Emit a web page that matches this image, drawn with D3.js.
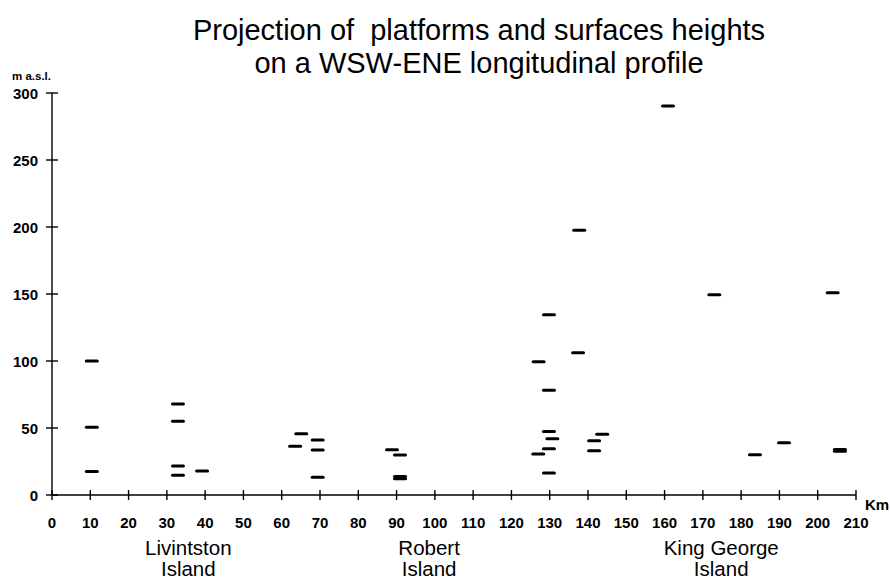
<!DOCTYPE html>
<html><head><meta charset="utf-8">
<script src="https://cdn.jsdelivr.net/npm/d3@7"></script>
<style>body{margin:0;background:#fff}svg{display:block}text{font-family:"Liberation Sans",Arial,sans-serif;fill:#000}</style>
</head><body><svg id="c" width="890" height="580"></svg>
<script>
// Data: distance along profile (km) and height (m a.s.l.)
const km = [10.4,10.4,10.4, 32.9,32.9,32.9,32.9, 39.2,
  65.1,63.5,69.4,69.4,69.4, 88.8,90.9,90.9,90.9,
  129.8,137.4,127.1,129.8,129.8,130.7,129.8,127.0,129.8,143.7,141.6,141.6,
  160.9,137.7,173.0,203.9,191.2,183.6,205.8,205.8];
const height = [100,50.5,17.5, 68,55,21.6,14.8, 17.9,
  45.7,36.3,41,33.6,13.2, 33.8,29.9,12.2,13.8,
  134.6,106.2,99.5,78.1,47.3,42,34.6,30.6,16.4,45.3,40.5,33.1,
  290.3,197.5,149.5,151,39,30.1,32.6,34];
const xTicks = d3.range(0,211,10);
const yTicks = [0,50,100,150,200,250,300];
const islands = [{name:["Livintston","Island"],at:35.6},{name:["Robert","Island"],at:98.5},{name:["King George","Island"],at:174.8}];
const titleLines = ["Projection of  platforms and surfaces heights","on a WSW-ENE longitudinal profile"];

const svg = d3.select("#c");
const x = d3.scaleLinear().domain([0,210]).range([52,856]);
const y = d3.scaleLinear().domain([0,300]).range([495,93]);

// title
svg.selectAll("text.title").data(titleLines).join("text").attr("class","title")
  .attr("x",479).attr("y",(d,i)=>40+i*33).attr("text-anchor","middle")
  .style("font-size","29px").style("white-space","pre").text(d=>d);

svg.append("text").attr("x",12).attr("y",80).style("font-size","11.5px").style("font-weight","bold").text("m a.s.l.");

// x axis
const gx = svg.append("g");
gx.append("line").attr("x1",x(0)).attr("x2",x(210)).attr("y1",y(0)).attr("y2",y(0)).attr("stroke","#000").attr("stroke-width",1.4);
gx.selectAll("line.t").data(xTicks).join("line").attr("class","t")
  .attr("x1",d=>x(d)).attr("x2",d=>x(d)).attr("y1",y(0)-5).attr("y2",y(0)+5).attr("stroke","#000").attr("stroke-width",1.4);
gx.selectAll("text").data(xTicks).join("text").attr("x",d=>x(d)).attr("y",528)
  .attr("text-anchor","middle").style("font-size","15px").style("font-weight","bold").text(d=>d);
svg.append("text").attr("x",865).attr("y",510).style("font-size","15px").style("font-weight","bold").text("Km");

// y axis
const gy = svg.append("g");
gy.append("line").attr("x1",x(0)).attr("x2",x(0)).attr("y1",y(0)).attr("y2",y(300)).attr("stroke","#000").attr("stroke-width",1.4);
gy.selectAll("line.t").data(yTicks).join("line").attr("class","t")
  .attr("x1",x(0)-6).attr("x2",x(0)+6).attr("y1",d=>y(d)).attr("y2",d=>y(d)).attr("stroke","#000").attr("stroke-width",1.4);
gy.selectAll("text").data(yTicks).join("text").attr("x",38).attr("y",d=>y(d)+5.5)
  .attr("text-anchor","end").style("font-size","15px").style("font-weight","bold").text(d=>d);

// island labels
islands.forEach(is=>{
  svg.append("text").attr("x",x(is.at)).attr("text-anchor","middle").style("font-size","20.5px")
    .selectAll("tspan").data(is.name).join("tspan").attr("x",x(is.at)).attr("y",(d,i)=>555+i*21).text(d=>d);
});

// dashes
const pts = km.map((k,i)=>({k,h:height[i]}));
svg.append("g").selectAll("line").data(pts).join("line")
  .attr("x1",d=>x(d.k)-5.5).attr("x2",d=>x(d.k)+5.5)
  .attr("y1",d=>y(d.h)).attr("y2",d=>y(d.h))
  .attr("stroke","#000").attr("stroke-width",3).attr("stroke-linecap","round");
</script></body></html>
